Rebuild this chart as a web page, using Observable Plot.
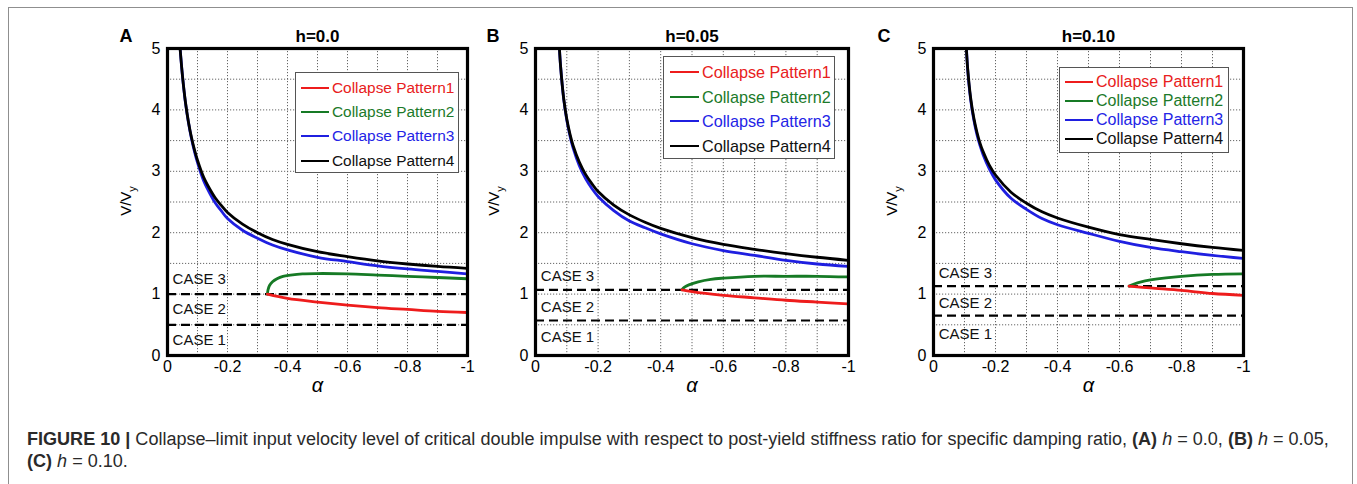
<!DOCTYPE html>
<html>
<head>
<meta charset="utf-8">
<script src="https://cdn.jsdelivr.net/npm/d3@7"></script>
<script src="https://cdn.jsdelivr.net/npm/@observablehq/plot@0.6"></script>
<style>
  html, body { margin: 0; padding: 0; background: #fff; }
  #root { position: relative; width: 1357px; height: 484px; overflow: hidden; font-family: "Liberation Sans", Arial, sans-serif; }
  #box { position: absolute; left: 8px; top: 7px; width: 1345px; height: 600px; border: 1.6px solid #8f8f8f; box-sizing: border-box; }
  .panel { position: absolute; top: 0; }
  .panel svg { background: transparent !important; overflow: visible; }
  .legend { position: absolute; background: #fff; border: 1px solid #555; box-sizing: border-box; }
  .legend .row { position: absolute; left: 0; white-space: nowrap; display: flex; align-items: center; }
  .legend .sw { display: inline-block; height: 2.6px; margin-right: 3px; }
  #cap { position: absolute; left: 27px; top: 428px; color: #2a2a2a; line-height: 22px; white-space: nowrap; font-family: "Liberation Sans", Arial, sans-serif; }
</style>
</head>
<body>
<div id="root">
  <div id="box"></div>
  <div id="cap"><span id="l1"><b>FIGURE 10 |</b> Collapse–limit input velocity level of critical double impulse with respect to post-yield stiffness ratio for specific damping ratio, <b>(A)</b> <i>h</i> = 0.0, <b>(B)</b> <i>h</i> = 0.05,</span><br><b>(C)</b> <i>h</i> = 0.10.</div>
</div>
<script>
// ---------------- data ----------------
const xTicks = [0, -0.2, -0.4, -0.6, -0.8, -1];
const xGrid = [-0.1, -0.2, -0.3, -0.4, -0.5, -0.6, -0.7, -0.8, -0.9];
const yTicks = [0, 1, 2, 3, 4, 5];
const yGrid = [0.5, 1, 1.5, 2, 2.5, 3, 3.5, 4, 4.5];
const seriesNames = ["Collapse Pattern1", "Collapse Pattern2", "Collapse Pattern3", "Collapse Pattern4"];
const caseLabels = ["CASE 3", "CASE 2", "CASE 1"];

// Panel A, h = 0.0  ([alpha, V/Vy])
const a_p4 = [[-0.042,5.0],[-0.05,4.55],[-0.06,4.12],[-0.07,3.80],[-0.08,3.55],[-0.09,3.35],[-0.10,3.18],[-0.12,2.91],[-0.14,2.72],[-0.16,2.56],[-0.18,2.44],[-0.2,2.33],[-0.25,2.14],[-0.3,2.0],[-0.35,1.89],[-0.4,1.81],[-0.5,1.69],[-0.6,1.61],[-0.7,1.54],[-0.8,1.49],[-0.9,1.45],[-1.0,1.42]];
const a_p3 = [[-0.042,5.0],[-0.05,4.55],[-0.06,4.11],[-0.07,3.79],[-0.08,3.53],[-0.09,3.32],[-0.10,3.14],[-0.12,2.85],[-0.14,2.65],[-0.16,2.48],[-0.18,2.35],[-0.2,2.23],[-0.25,2.04],[-0.3,1.91],[-0.35,1.80],[-0.4,1.72],[-0.5,1.60],[-0.6,1.53],[-0.7,1.46],[-0.8,1.41],[-0.9,1.37],[-1.0,1.33]];
const a_p2 = [[-0.333,1.0],[-0.335,1.07],[-0.34,1.14],[-0.35,1.20],[-0.365,1.25],[-0.385,1.29],[-0.41,1.31],[-0.45,1.33],[-0.5,1.335],[-0.6,1.33],[-0.7,1.31],[-0.8,1.29],[-0.9,1.27],[-1.0,1.25]];
const a_p1 = [[-0.333,1.0],[-0.4,0.93],[-0.5,0.87],[-0.6,0.82],[-0.7,0.78],[-0.8,0.75],[-0.9,0.72],[-1.0,0.70]];
const a_dash = [1.0, 0.5];
const a_caseY = [1.24, 0.75, 0.25];

// Panel B, h = 0.05
const b_p4 = [[-0.0765,5.0],[-0.08,4.72],[-0.09,4.19],[-0.10,3.85],[-0.11,3.61],[-0.12,3.42],[-0.14,3.15],[-0.16,2.95],[-0.18,2.80],[-0.2,2.67],[-0.25,2.45],[-0.3,2.29],[-0.35,2.17],[-0.4,2.07],[-0.5,1.92],[-0.6,1.81],[-0.7,1.73],[-0.8,1.66],[-0.9,1.60],[-1.0,1.55]];
const b_p3 = [[-0.0765,5.0],[-0.08,4.72],[-0.09,4.18],[-0.10,3.83],[-0.11,3.58],[-0.12,3.38],[-0.14,3.09],[-0.16,2.88],[-0.18,2.72],[-0.2,2.59],[-0.25,2.36],[-0.3,2.19],[-0.35,2.08],[-0.4,1.98],[-0.5,1.82],[-0.6,1.71],[-0.7,1.63],[-0.8,1.55],[-0.9,1.49],[-1.0,1.45]];
const b_p2 = [[-0.468,1.07],[-0.475,1.11],[-0.49,1.15],[-0.52,1.20],[-0.56,1.24],[-0.6,1.26],[-0.7,1.29],[-0.8,1.29],[-0.9,1.29],[-1.0,1.28]];
const b_p1 = [[-0.468,1.07],[-0.5,1.04],[-0.6,0.98],[-0.7,0.94],[-0.8,0.90],[-0.9,0.87],[-1.0,0.84]];
const b_dash = [1.07, 0.57];
const b_caseY = [1.29, 0.79, 0.30];

// Panel C, h = 0.10
const c_p4 = [[-0.106,5.0],[-0.11,4.69],[-0.12,4.19],[-0.13,3.87],[-0.14,3.64],[-0.15,3.46],[-0.16,3.32],[-0.18,3.10],[-0.2,2.94],[-0.25,2.66],[-0.3,2.48],[-0.35,2.34],[-0.4,2.24],[-0.5,2.09],[-0.6,1.97],[-0.7,1.89],[-0.8,1.82],[-0.9,1.76],[-1.0,1.71]];
const c_p3 = [[-0.1065,5.0],[-0.11,4.67],[-0.12,4.16],[-0.13,3.84],[-0.14,3.60],[-0.15,3.42],[-0.16,3.27],[-0.18,3.04],[-0.2,2.86],[-0.25,2.56],[-0.3,2.38],[-0.35,2.23],[-0.4,2.13],[-0.5,1.99],[-0.6,1.86],[-0.7,1.76],[-0.8,1.69],[-0.9,1.63],[-1.0,1.58]];
const c_p2 = [[-0.631,1.13],[-0.645,1.16],[-0.67,1.20],[-0.7,1.23],[-0.75,1.265],[-0.8,1.29],[-0.9,1.32],[-1.0,1.33]];
const c_p1 = [[-0.631,1.13],[-0.7,1.10],[-0.8,1.06],[-0.9,1.01],[-1.0,0.98]];
const c_dash = [1.13, 0.65];
const c_caseY = [1.34, 0.85, 0.35];

const colors = ["#ee1c1c", "#167a25", "#1f1fe0", "#000000"];
const textColors = ["#e82020", "#1c7a2a", "#2424e6", "#111111"];

// ---------------- layout ----------------
const panels = [
  {letter: "A", title: "h=0.0", left: 167, w: 300, s: [a_p1, a_p2, a_p3, a_p4], dash: a_dash, caseY: a_caseY, ldx: -48,
   legend: {x: 295, y: 72, w: 164, h: 101, rows: [87, 111, 135, 160], lx: 5, lw: 28, fs: 15.4}},
  {letter: "B", title: "h=0.05", left: 535, w: 313, s: [b_p1, b_p2, b_p3, b_p4], dash: b_dash, caseY: b_caseY, ldx: -49,
   legend: {x: 663, y: 56, w: 172, h: 103, rows: [71, 96, 120, 145], lx: 6, lw: 29, fs: 16.2}},
  {letter: "C", title: "h=0.10", left: 933, w: 310, s: [c_p1, c_p2, c_p3, c_p4], dash: c_dash, caseY: c_caseY, ldx: -56,
   legend: {x: 1059, y: 67, w: 170, h: 86, rows: [81, 100, 119, 138], lx: 5, lw: 28, fs: 16}}
];

const root = document.getElementById("root");
const ML = 60, MR = 20, MT = 48, MB = 45, H = 400;

for (const p of panels) {
  const caseData = caseLabels.map((t, i) => ({t, y: p.caseY[i]}));
  const lineMark = (data, color) => Plot.line(data, {x: d => d[0], y: d => d[1], stroke: color, strokeWidth: 2.8, curve: "catmull-rom", clip: true});
  const chart = Plot.plot({
    width: ML + p.w + MR, height: H,
    marginLeft: ML, marginRight: MR, marginTop: MT, marginBottom: MB,
    style: {fontFamily: "Liberation Sans, Arial, sans-serif", fontSize: "15px", color: "#000", background: "transparent"},
    x: {domain: [0, -1]},
    y: {domain: [0, 5]},
    marks: [
      Plot.gridX(xGrid, {stroke: "#666", strokeOpacity: 1, strokeWidth: 1, strokeDasharray: "1.2,1.8"}),
      Plot.gridY(yGrid, {stroke: "#666", strokeOpacity: 1, strokeWidth: 1, strokeDasharray: "1.2,1.8"}),
      Plot.ruleY(p.dash, {stroke: "#000", strokeWidth: 2.2, strokeDasharray: "9,5"}),
      lineMark(p.s[2], colors[2]),
      lineMark(p.s[3], colors[3]),
      lineMark(p.s[1], colors[1]),
      lineMark(p.s[0], colors[0]),
      Plot.text(caseData, {x: -0.017, y: "y", text: "t", textAnchor: "start", fontSize: 15, fill: "#111"}),
      Plot.axisX(xTicks, {tickSize: 0, tickPadding: 5, tickFormat: d => String(d), label: null}),
      Plot.axisY(yTicks, {tickSize: 0, tickPadding: 7, tickFormat: d => String(d), label: null}),
      Plot.frame({stroke: "#000", strokeWidth: 3.2}),
      Plot.text([p.title], {frameAnchor: "top", lineAnchor: "bottom", dy: -7, fontWeight: "bold", fontSize: 17, fill: "#000"}),
      Plot.text([p.letter], {frameAnchor: "top-left", textAnchor: "start", lineAnchor: "bottom", dx: p.ldx, dy: -7, fontWeight: "bold", fontSize: 18, fill: "#000"}),
      Plot.text(["α"], {frameAnchor: "bottom", lineAnchor: "top", dy: 22, fontSize: 20, fontStyle: "italic", fill: "#000"})
    ]
  });
  const svg = d3.select(chart);
  // enforce tick label size
  svg.selectAll('g[aria-label="x-axis tick label"], g[aria-label="y-axis tick label"]')
    .attr("font-size", 16).style("font-size", "16px");
  svg.selectAll('g[aria-label="x-axis tick label"] text, g[aria-label="y-axis tick label"] text')
    .attr("font-size", 16).style("font-size", "16px");
  // y label with subscript
  const yl = svg.append("text")
    .attr("transform", `translate(${ML - 36},${MT + 153}) rotate(-90)`)
    .attr("text-anchor", "middle")
    .attr("font-size", 15)
    .attr("fill", "#000");
  yl.append("tspan").text("V/V");
  yl.append("tspan").attr("font-size", 11).attr("dy", 5).text("y");

  const wrap = document.createElement("div");
  wrap.className = "panel";
  wrap.style.left = (p.left - ML) + "px";
  wrap.appendChild(chart);
  root.appendChild(wrap);

  // legend box
  const L = p.legend;
  const lg = document.createElement("div");
  lg.className = "legend";
  lg.style.left = L.x + "px"; lg.style.top = L.y + "px";
  lg.style.width = L.w + "px"; lg.style.height = L.h + "px";
  seriesNames.forEach((name, i) => {
    const row = document.createElement("div");
    row.className = "row";
    row.style.top = (L.rows[i] - L.y - 11) + "px";
    row.style.height = "22px";
    row.style.left = L.lx + "px";
    row.style.fontSize = L.fs + "px";
    row.style.color = textColors[i];
    const sw = document.createElement("span");
    sw.className = "sw";
    sw.style.width = L.lw + "px";
    sw.style.background = colors[i];
    row.appendChild(sw);
    row.appendChild(document.createTextNode(name));
    lg.appendChild(row);
  });
  root.appendChild(lg);
}

// caption: fit first line to reference width
const cap = document.getElementById("cap");
const l1 = document.getElementById("l1");
let fs = 14;
cap.style.fontSize = fs + "px";
const w = l1.getBoundingClientRect().width;
fs = fs * 1303 / w;
cap.style.fontSize = fs.toFixed(2) + "px";
root.appendChild(cap);
</script>
</body>
</html>
